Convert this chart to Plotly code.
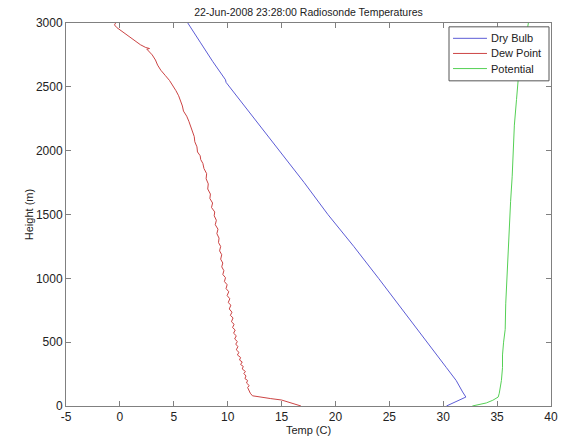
import plotly.graph_objects as go

title = "22-Jun-2008 23:28:00 Radiosonde Temperatures"
series_names = ["Dry Bulb", "Dew Point", "Potential"]
series_colors = ["#5c5cd6", "#cc4444", "#55d055"]

# Dry bulb temperature profile
dry_height = [0, 30, 70, 110, 150, 200, 300, 500, 750, 1000, 1250, 1500, 1750, 2000,
              2250, 2500, 2535, 2555, 2700, 2850, 3000]
dry_temp = [30.3, 31.1, 32.1, 31.8, 31.5, 31.2, 30.3, 28.5, 26.3, 24.0, 21.7, 19.3, 17.1, 14.8,
            12.5, 10.2, 9.85, 9.8, 8.6, 7.45, 6.3]

# Dew point profile
dew_height = [0, 15, 35, 47, 58, 68, 80, 100, 125, 145, 160, 180, 200, 215, 235, 255, 270,
              290, 310, 325, 345, 360, 380, 400, 420, 440, 465, 485, 505, 525, 550, 570, 595,
              615, 640, 660, 690, 710, 735, 760, 790, 810, 840, 865, 895, 920, 950, 975, 1005,
              1030, 1060, 1090, 1120, 1150, 1185, 1215, 1250, 1280, 1315, 1350, 1385, 1420,
              1455, 1490, 1520, 1555, 1590, 1625, 1660, 1700, 1740, 1780, 1820, 1860, 1900,
              1930, 1960, 1990, 2030, 2070, 2110, 2150, 2190, 2230, 2270, 2310, 2350, 2390,
              2430, 2470, 2510, 2550, 2590, 2630, 2670, 2710, 2750, 2780, 2795, 2800, 2808,
              2830, 2860, 2890, 2920, 2945, 2965, 2985, 3000]
dew_temp = [16.8, 16.2, 15.4, 15.0, 14.0, 13.0, 12.3, 12.1, 12.0, 11.85, 12.0, 11.75, 11.85,
            11.6, 11.7, 11.5, 11.65, 11.35, 11.45, 11.2, 11.35, 11.1, 11.2, 10.9, 11.05, 10.8,
            10.95, 10.75, 10.9, 10.65, 10.8, 10.55, 10.7, 10.45, 10.6, 10.35, 10.5, 10.25,
            10.4, 10.15, 10.3, 10.05, 10.2, 9.95, 10.1, 9.85, 9.95, 9.7, 9.8, 9.55, 9.65, 9.45,
            9.55, 9.35, 9.45, 9.25, 9.35, 9.15, 9.2, 9.0, 9.1, 8.85, 8.95, 8.75, 8.8, 8.5, 8.6,
            8.35, 8.4, 8.15, 8.2, 8.0, 8.05, 7.8, 7.7, 7.5, 7.45, 7.2, 7.15, 6.95, 6.9, 6.75,
            6.6, 6.4, 6.2, 5.9, 5.8, 5.65, 5.45, 5.2, 4.9, 4.6, 4.2, 3.8, 3.5, 3.3, 3.0, 2.7,
            2.5, 2.75, 2.4, 1.9, 1.4, 0.9, 0.4, 0.0, -0.3, -0.5, -0.4]

# Potential temperature profile
pot_height = [0, 12, 24, 45, 70, 100, 200, 300, 400, 500, 600, 800, 1000, 1200, 1400,
              1600, 1800, 2000, 2200, 2400, 2500, 2600, 2700, 2800, 2900, 3000]
pot_temp = [32.7, 33.4, 34.0, 34.6, 35.1, 35.2, 35.4, 35.5, 35.5, 35.6, 35.75, 35.8,
            35.9, 36.0, 36.1, 36.25, 36.4, 36.5, 36.6, 36.8, 36.9, 37.0, 37.2, 37.5, 37.7, 37.9]

x_ticks = [-5, 0, 5, 10, 15, 20, 25, 30, 35, 40]
y_ticks = [0, 500, 1000, 1500, 2000, 2500, 3000]

FONT = "Liberation Sans, Arial, sans-serif"

fig = go.Figure()
for xs, ys, name, color in [(dry_temp, dry_height, series_names[0], series_colors[0]),
                            (dew_temp, dew_height, series_names[1], series_colors[1]),
                            (pot_temp, pot_height, series_names[2], series_colors[2])]:
    fig.add_trace(go.Scatter(x=xs, y=ys, mode="lines", name=name,
                             line=dict(color=color, width=1), showlegend=False))

# Compact MATLAB-style legend box (paper coordinates of the plot area)
fig.add_shape(type="rect", xref="paper", yref="paper", x0=0.7897, x1=0.9959,
              y0=0.849, y1=0.990, line=dict(color="#555", width=1), fillcolor="white",
              layer="above")
row_y = [0.960, 0.9205, 0.881]
for name, color, yy in zip(series_names, series_colors, row_y):
    fig.add_shape(type="line", xref="paper", yref="paper", x0=0.798, x1=0.868, y0=yy, y1=yy,
                  line=dict(color=color, width=1), layer="above")
    fig.add_annotation(text=name, xref="paper", yref="paper", x=0.873, y=yy,
                       xanchor="left", yanchor="middle", showarrow=False,
                       font=dict(family=FONT, size=11, color="#222"))

axis_common = dict(showline=True, linecolor="#808080", linewidth=1, mirror="ticks",
                   ticks="inside", ticklen=5, tickcolor="#808080", showgrid=False,
                   zeroline=False, automargin=False,
                   tickfont=dict(family=FONT, size=12, color="#222"))

fig.update_layout(
    width=575, height=441,
    margin=dict(l=66, r=24, t=23, b=35, autoexpand=False),
    paper_bgcolor="white", plot_bgcolor="white",
    title=dict(text=title, x=0.5365, xanchor="center", y=0.973, yanchor="middle",
               font=dict(family=FONT, size=10.5, color="#222")),
    xaxis=dict(range=[-5, 40], tickvals=x_ticks, ticktext=[str(v) for v in x_ticks],
               title=dict(text="Temp (C)", standoff=0,
                          font=dict(family=FONT, size=11, color="#222")),
               **axis_common),
    yaxis=dict(range=[0, 3000], tickvals=y_ticks, ticktext=[str(v) for v in y_ticks],
               title=dict(text="Height (m)", standoff=0,
                          font=dict(family=FONT, size=11, color="#222")),
               **axis_common),
    showlegend=False,
)

fig.write_html("out.html", config={"displayModeBar": False},
               post_script="document.body.style.margin='0px';")
